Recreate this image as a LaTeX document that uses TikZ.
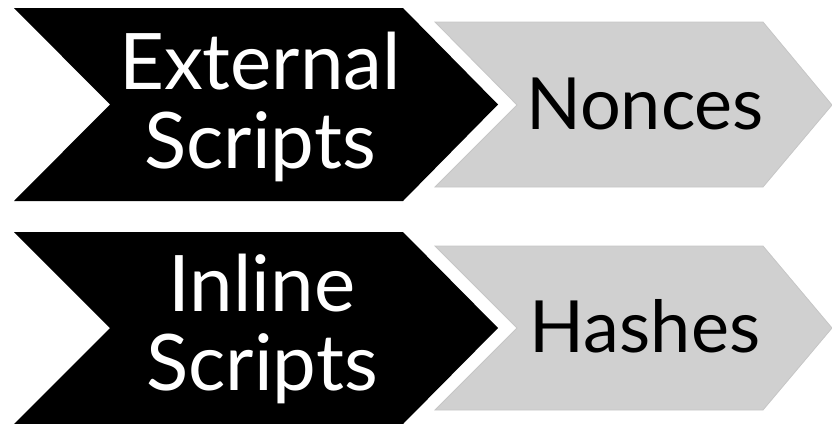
\documentclass[tikz,border=0pt]{standalone}
\usepackage{fontspec}
\setmainfont{Lato}
\definecolor{chevgray}{HTML}{D0D0D0}
\definecolor{chevedge}{HTML}{C6C6C6}
\tikzset{
  darkchev/.style={fill=black},
  lightchev/.style={fill=chevgray, draw=chevedge, line width=0.8pt, line join=miter},
  darklabel/.style={text=white, align=center, anchor=base, inner sep=0pt,
    font=\fontsize{78}{79}\selectfont},
  lightlabel/.style={text=black, anchor=base, inner sep=0pt,
    font=\fontsize{72}{72}\selectfont},
}
\begin{document}
\begin{tikzpicture}[x=1pt, y=-1pt]
  \useasboundingbox (0,0) rectangle (832,423);

  % upper row: external scripts -> nonces
  \fill[darkchev] (14,8) -- (403,8) -- (498,104.5) -- (403,201) -- (14,201) -- (110,104.5) -- cycle;
  \filldraw[lightchev] (435,22) -- (763,22) -- (832,105) -- (763,187) -- (435,187) -- (517,105) -- cycle;
  % the base anchor of a two-line label sits on its last line
  \node[darklabel] (ext) at (260,168) {External\\Scripts};
  \node[lightlabel] (nonce) at (645,129) {Nonces};

  % lower row: inline scripts -> hashes
  \fill[darkchev] (14,232) -- (403,232) -- (498,328) -- (403,424) -- (14,424) -- (110,328) -- cycle;
  \filldraw[lightchev] (435,246) -- (763,246) -- (832,328) -- (763,410) -- (435,410) -- (517,328) -- cycle;
  \node[darklabel] (inl) at (262,390) {Inline\\Scripts};
  \node[lightlabel] (hash) at (645,352) {Hashes};
\end{tikzpicture}
\end{document}
